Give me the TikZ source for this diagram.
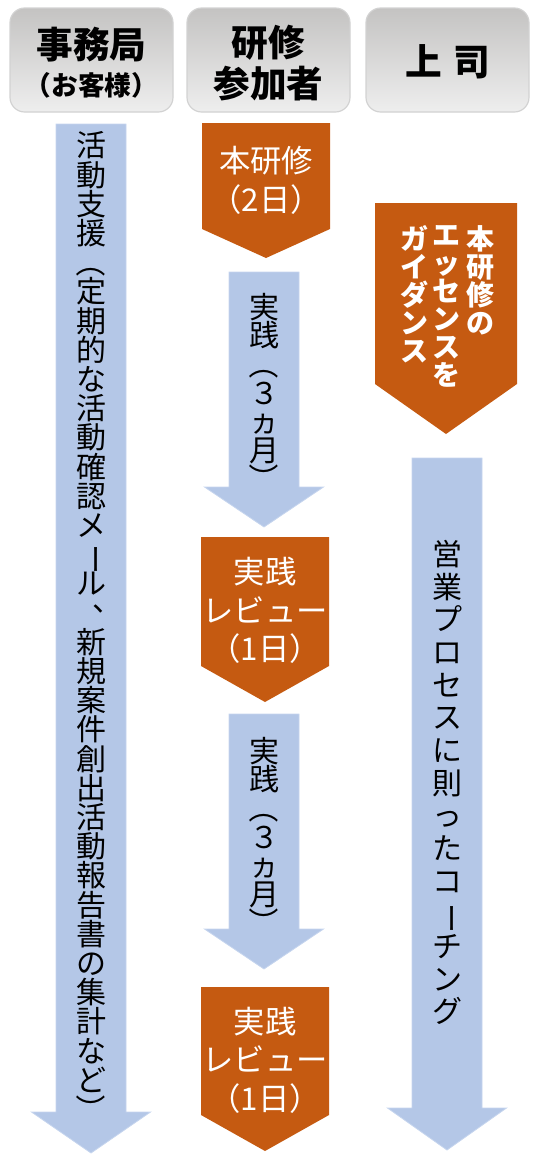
\documentclass[tikz,border=0pt]{standalone}
\usepackage{fontspec}
\usepackage{graphicx}
\usepackage{tikz}
\setmainfont{Noto Sans CJK JP}
\newfontfamily\jp{Noto Sans CJK JP}
\definecolor{shaftblue}{RGB}{180,199,231}
\definecolor{edgeblue}{RGB}{198,213,238}
\definecolor{rust}{RGB}{197,90,17}
\definecolor{headtop}{RGB}{196,195,194}
\definecolor{headbottom}{RGB}{238,238,238}
\definecolor{headedge}{RGB}{210,210,210}
\def\blockdown(#1,#2,#3,#4)(#5,#6){\draw[blockarrow] (#1-#5,#2) -- (#1+#5,#2) -- (#1+#5,#3) -- (#1+#6,#3) -- (#1,#4) -- (#1-#6,#3) -- (#1-#5,#3) -- cycle;}
\def\pentdown(#1,#2,#3,#4)(#5){\fill[rust] (#1-#5,#2) -- (#1+#5,#2) -- (#1+#5,#3) -- (#1,#4) -- (#1-#5,#3) -- cycle;}
% vertical stack, one glyph per line
\newcommand\tate[2][1em]{\vbox{\baselineskip=#1\lineskiplimit=-100pt\lineskip=0pt\tatestep#2\relax}}
\def\tatestep#1{\ifx\relax#1\else\hbox to 1em{\hss#1\hss}\expandafter\tatestep\fi}
\def\R#1{\rotatebox[origin=c]{-90}{#1}}
\def\T#1{\makebox[1em][l]{\kern0.55em\raisebox{0.42em}{#1}}}
\tikzset{
	headbox/.style={draw=headedge, line width=0.9pt, rounded corners=11pt, top color=headtop, bottom color=headbottom},
	blockarrow/.style={fill=shaftblue, draw=edgeblue, line width=0.6pt},
	headtext/.style={font=\jp\bfseries\fontsize{27.5pt}{30pt}\selectfont, inner sep=0pt},
	subtext/.style={font=\jp\bfseries\fontsize{20pt}{24pt}\selectfont, inner sep=0pt},
	whitetext/.style={font=\jp\fontsize{23.5pt}{29pt}\selectfont, text=white, align=center, inner sep=0pt},
	tatetext/.style={font=\jp\fontsize{22.5pt}{22pt}\selectfont, inner sep=0pt},
	tatewhite/.style={font=\jp\bfseries\fontsize{21pt}{21pt}\selectfont, text=white, inner sep=0pt, anchor=north}
}

\begin{document}
\begin{tikzpicture}[x=0.75pt, y=-0.75pt]
		%%%%% START %%%%%
		\useasboundingbox (0,0) rectangle (544,1161);
		
		\draw[headbox] (10,8) rectangle (173,112);
		\draw[headbox] (187,8) rectangle (350,112);
		\draw[headbox] (366,8) rectangle (529,112);
		\node[headtext] (jimu) at (91.5,44.5) {事務局};
		\node[subtext] (kyaku) at (91.5,85) {（お客様）};
		\node[headtext] (kenshu) at (268.5,43) {研修};
		\node[headtext] (sanka) at (268.5,84) {参加者};
		\node[headtext] (joshi) at (447.5,62) {上\hspace{0.3em}司};
		
		\blockdown(91,124,1112,1153)(35,59.5)
		\node[tatetext] (shien) at (91,628) {\tate[21.9pt]{活動支援{\R（}定期的な活動確認メ{\R ー}ル{\T 、}新規案件創出活動報告書の集計など{\R ）}}};
		
		\pentdown(266,123,229,258)(64)
		\node[whitetext] (honken) at (266,180.5) {本研修\\（2日）};
		
		\blockdown(264,272,487,527)(35,59.5)
		\node[tatetext] (jissenA) at (264,393.5) {\tate[21.5pt]{実践{\R（}３ヵ月{\R ）}}};
		
		\pentdown(265,537,666,702)(64)
		\node[whitetext] (reviewA) at (265,610.5) {実践\\レビュー\\（1日）};
		
		\blockdown(264,714,929,969)(35,59.5)
		\node[tatetext] (jissenB) at (264,837.5) {\tate[21.5pt]{実践{\R（}３ヵ月{\R ）}}};
		
		\pentdown(265,987,1115,1151)(64)
		\node[whitetext] (reviewB) at (265,1060) {実践\\レビュー\\（1日）};
		
		\pentdown(446,203,384,434)(71)
		\node[tatewhite] (guideA) at (480,225) {\tate{本研修の}};
		\node[tatewhite] (guideB) at (446,225) {\tate{エッセンスを}};
		\node[tatewhite] (guideC) at (414,225) {\tate{ガイダンス}};
		
		\blockdown(447,458,1108,1150)(35,59.5)
		\node[tatetext] (coach) at (447,782.5) {\tate[24.5pt]{営業プロセスに則ったコ{\R ー}チング}};
		
		%%%%% END %%%%%
\end{tikzpicture}
\end{document}
